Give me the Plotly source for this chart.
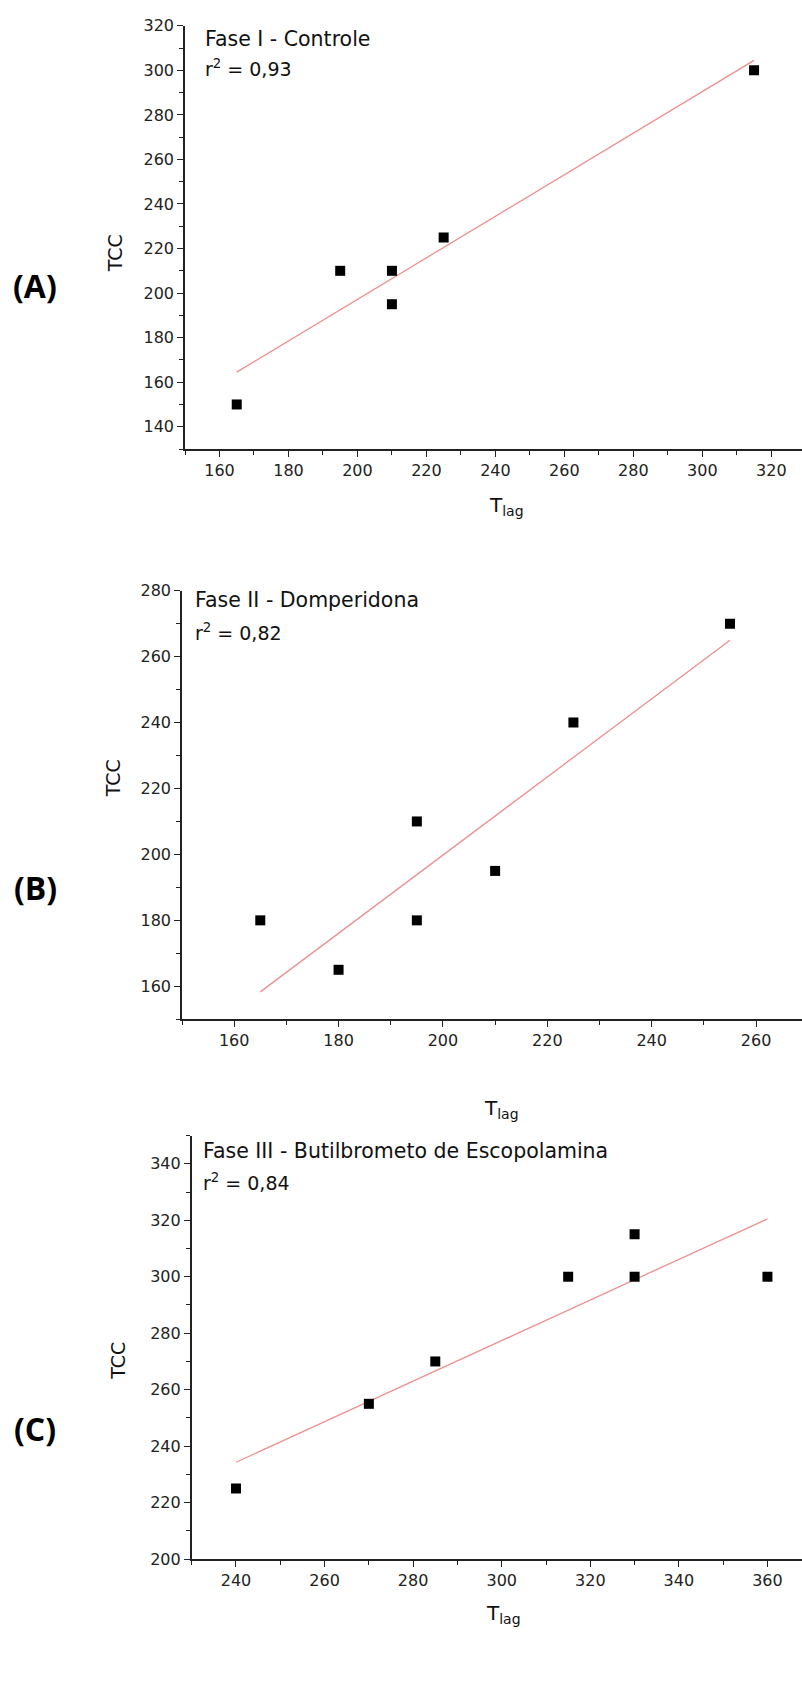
import plotly.graph_objects as go

W, H = 802, 1695

# Fase I - Controle
tlag_a = [165, 195, 210, 210, 225, 315]
tcc_a = [150, 210, 210, 195, 225, 300]
fit_x_a = [165, 315]
fit_y_a = [164.5, 304.5]

# Fase II - Domperidona
tlag_b = [165, 180, 195, 195, 210, 225, 255]
tcc_b = [180, 165, 210, 180, 195, 240, 270]
fit_x_b = [165, 255]
fit_y_b = [158.3, 265.0]

# Fase III - Butilbrometo de Escopolamina
tlag_c = [240, 270, 285, 315, 330, 330, 360]
tcc_c = [225, 255, 270, 300, 315, 300, 300]
fit_x_c = [240, 360]
fit_y_c = [234.3, 320.5]

panels = [
    dict(x=tlag_a, y=tcc_a, fx=fit_x_a, fy=fit_y_a,
         title="Fase I - Controle", r2="0,93", tag="(A)",
         left=185, top=17, bottom=445, xr=[150, 328.9], yr=[130, 320],
         title_xy=(203, 30), r2_xy=(203, 60), tag_y=280,
         ylab_xy=(115, 247), xlab_xy=(495, 503)),
    dict(x=tlag_b, y=tcc_b, fx=fit_x_b, fy=fit_y_b,
         title="Fase II - Domperidona", r2="0,82", tag="(B)",
         left=182, top=588.3, bottom=1021.7, xr=[150, 268.8], yr=[150, 280],
         title_xy=(193, 598), r2_xy=(193, 630), tag_y=888,
         ylab_xy=(113, 778), xlab_xy=(490, 1112)),
    dict(x=tlag_c, y=tcc_c, fx=fit_x_c, fy=fit_y_c,
         title="Fase III - Butilbrometo de Escopolamina", r2="0,84", tag="(C)",
         left=191.7, top=1139.3, bottom=1567.7, xr=[230, 367.8], yr=[200, 350],
         title_xy=(201, 1155), r2_xy=(201, 1186), tag_y=1436,
         ylab_xy=(118, 1367), xlab_xy=(492, 1623)),
]


def px(x):
    return x / W


def py(y):
    return 1 - y / H


FONT = "DejaVu Sans, Liberation Sans, sans-serif"
fig = go.Figure()
annotations = []
layout = {}

for i, p in enumerate(panels, start=1):
    xa = "x" if i == 1 else f"x{i}"
    ya = "y" if i == 1 else f"y{i}"
    fig.add_trace(go.Scatter(
        x=p["fx"], y=p["fy"], mode="lines",
        line=dict(color="#ee8f8f", width=1.3),
        xaxis=xa, yaxis=ya, showlegend=False, hoverinfo="skip"))
    fig.add_trace(go.Scatter(
        x=p["x"], y=p["y"], mode="markers",
        marker=dict(symbol="square", size=10, color="black"),
        xaxis=xa, yaxis=ya, showlegend=False))

    axis_common = dict(
        showgrid=False, zeroline=False, showline=True, linecolor="#222",
        linewidth=1.6, ticks="outside", ticklen=6, tickwidth=1.4,
        tickcolor="#222", dtick=20,
        tickfont=dict(family=FONT, size=16, color="#222"),
        minor=dict(ticks="outside", ticklen=4, tickwidth=1.2,
                   tickcolor="#222", dtick=10),
        fixedrange=True,
    )
    layout[f"xaxis{i if i > 1 else ''}"] = dict(
        axis_common, domain=[px(p["left"]), 1], range=p["xr"],
        anchor=ya, tick0=0)
    layout[f"yaxis{i if i > 1 else ''}"] = dict(
        axis_common, domain=[py(p["bottom"]), py(p["top"])], range=p["yr"],
        anchor=xa, tick0=0)

    annotations += [
        dict(text=p["title"], x=px(p["title_xy"][0]), y=py(p["title_xy"][1]),
             xanchor="left", yanchor="middle",
             font=dict(family=FONT, size=20.5, color="#111")),
        dict(text=f"r<sup>2</sup> = {p['r2']}", x=px(p["r2_xy"][0]),
             y=py(p["r2_xy"][1]), xanchor="left", yanchor="middle",
             font=dict(family=FONT, size=19, color="#111")),
        dict(text="TCC", x=px(p["ylab_xy"][0]), y=py(p["ylab_xy"][1]),
             textangle=-90, xanchor="center", yanchor="middle",
             font=dict(family=FONT, size=19, color="#111")),
        dict(text="T<sub>lag</sub>", x=px(p["xlab_xy"][0]),
             y=py(p["xlab_xy"][1]), xanchor="left", yanchor="middle",
             xshift=-8,
             font=dict(family=FONT, size=20, color="#111")),
        dict(text=f"<b>{p['tag']}</b>", x=px(35), y=py(p["tag_y"]),
             xanchor="center", yanchor="middle",
             font=dict(family="Open Sans, DejaVu Sans, sans-serif",
                       size=32, color="black")),
    ]

for a in annotations:
    a.update(xref="paper", yref="paper", showarrow=False)

fig.update_layout(
    width=W, height=H, margin=dict(l=0, r=0, t=0, b=0),
    paper_bgcolor="white", plot_bgcolor="white",
    annotations=annotations, **layout)

fig.write_html("out.html")
